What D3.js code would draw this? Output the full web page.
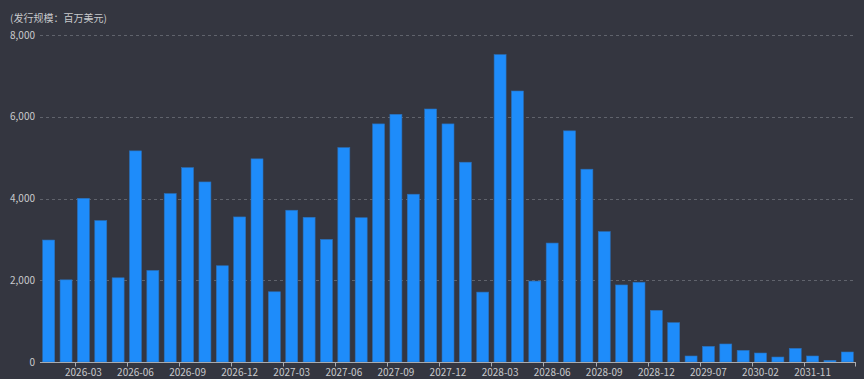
<!DOCTYPE html>
<html><head><meta charset="utf-8">
<script src="https://cdn.jsdelivr.net/npm/d3@7"></script>
<style>
html,body{margin:0;padding:0;background:#343640;}
svg{display:block;}
text{font-family:"Noto Sans CJK SC","Noto Sans",sans-serif;}
</style></head>
<body>
<svg id="c" width="864" height="379"></svg>
<script>
const categories = [
 "2026-01","2026-02","2026-03","2026-04","2026-05","2026-06","2026-07","2026-08","2026-09","2026-10","2026-11","2026-12",
 "2027-01","2027-02","2027-03","2027-04","2027-05","2027-06","2027-07","2027-08","2027-09","2027-10","2027-11","2027-12",
 "2028-01","2028-02","2028-03","2028-04","2028-05","2028-06","2028-07","2028-08","2028-09","2028-10","2028-11","2028-12",
 "2029-02","2029-04","2029-07","2029-09","2029-12","2030-02","2030-06","2031-03","2031-11","2032-03","2032-09"];
const values = [
 2984,2010,4005,3460,2060,5165,2240,4120,4755,4405,2355,3549,
 4970,1718,3713,3541,3000,5245,3530,5825,6060,4105,6190,5825,
 4888,1710,7520,6630,1980,2910,5655,4717,3190,1885,1951,1265,
 963,147,383,441,285,220,122,334,147,41,245];
const yTicks = [0,2000,4000,6000,8000];
const unitLabel = "(发行规模：百万美元)";

const svg = d3.select("#c");
const W = 864, H = 379;
const m = {left:40, right:8, top:35, bottom:17};
const x = d3.scaleBand().domain(categories).range([m.left, W-m.right]).paddingInner(0.31).paddingOuter(0.155);
const xb = d3.scaleBand().domain(categories).range([m.left, W-m.right]);
const y = d3.scaleLinear().domain([0,8000]).range([H-m.bottom, m.top]);

// grid
svg.append("g").selectAll("line").data(yTicks.filter(d=>d>0)).join("line")
  .attr("x1", m.left).attr("x2", W-m.right)
  .attr("y1", d=>Math.round(y(d))+0.5).attr("y2", d=>Math.round(y(d))+0.5)
  .attr("stroke", "#60636c").attr("stroke-dasharray","3,3").attr("stroke-width",1);

// y labels
svg.append("g").selectAll("text").data(yTicks).join("text")
  .attr("x", m.left-5).attr("y", d=>y(d)).attr("dy","0.35em")
  .attr("text-anchor","end").attr("fill","#c8c9cc").attr("font-size",10)
  .text(d=>d3.format(",")(d));

// bars
svg.append("g").selectAll("rect").data(values).join("rect")
  .attr("x", (d,i)=>x(categories[i])).attr("width", x.bandwidth())
  .attr("y", d=>y(d)).attr("height", d=>y(0)-y(d))
  .attr("fill","#1e8cfa").attr("stroke","#2a6fb8").attr("stroke-width",0.6);

// x axis
const xAxisY = Math.round(y(0))+0.5;
svg.append("line").attr("x1", m.left).attr("x2", W-m.right).attr("y1", xAxisY).attr("y2", xAxisY)
  .attr("stroke","#a9abb0").attr("stroke-width",1);
const labelIdx = categories.map((c,i)=>i).filter(i=>i%3===2);
svg.append("g").selectAll("line").data(labelIdx).join("line")
  .attr("x1", i=>Math.round(xb(categories[i]))+0.5).attr("x2", i=>Math.round(xb(categories[i]))+0.5)
  .attr("y1", xAxisY).attr("y2", xAxisY+4).attr("stroke","#a9abb0");
svg.append("line").attr("x1", W-m.right-0.5).attr("x2", W-m.right-0.5).attr("y1", xAxisY).attr("y2", xAxisY+4).attr("stroke","#a9abb0");
svg.append("g").selectAll("text").data(labelIdx).join("text")
  .attr("x", i=>xb(categories[i])+xb.bandwidth()/2).attr("y", xAxisY+13)
  .attr("text-anchor","middle").attr("fill","#c8c9cc").attr("font-size",10)
  .text(i=>categories[i]);

// unit label
svg.append("text").attr("x",10).attr("y",22).attr("fill","#c8c9cc").attr("font-size",10).text(unitLabel);
</script>
</body></html>
